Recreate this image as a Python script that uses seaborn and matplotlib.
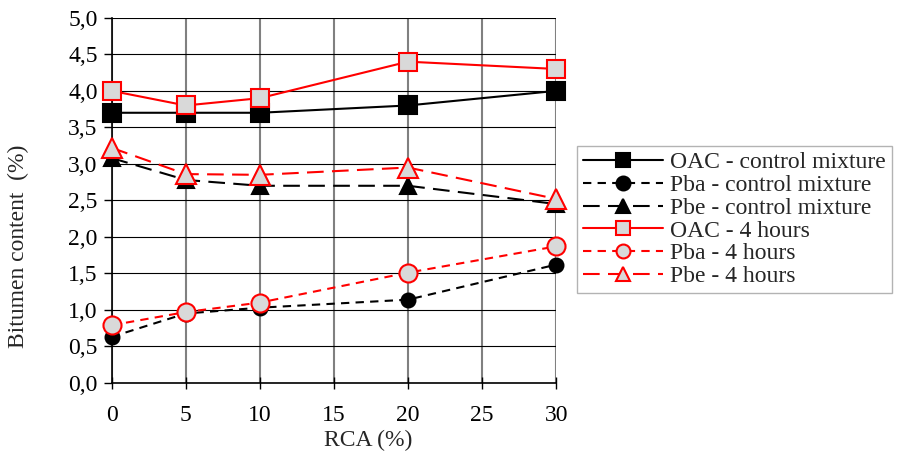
import pandas as pd
import seaborn as sns
import matplotlib.pyplot as plt
from matplotlib.ticker import FuncFormatter

rca = [0, 5, 10, 20, 30]
oac_control = [3.70, 3.70, 3.70, 3.80, 4.00]
pba_control = [0.63, 0.95, 1.03, 1.14, 1.62]
pbe_control = [3.08, 2.78, 2.70, 2.70, 2.45]
oac_4h = [4.00, 3.80, 3.90, 4.40, 4.30]
pba_4h = [0.79, 0.97, 1.10, 1.51, 1.87]
pbe_4h = [3.22, 2.86, 2.85, 2.95, 2.52]

series = [
    ("OAC - control mixture", oac_control, "black", "s", "black", (None, None), 13),
    ("Pba - control mixture", pba_control, "black", "o", "black", (4, 3), 10),
    ("Pbe - control mixture", pbe_control, "black", "^", "black", (8, 4), 12),
    ("OAC - 4 hours", oac_4h, "red", "s", "#d9d9d9", (None, None), 13),
    ("Pba - 4 hours", pba_4h, "red", "o", "#d9d9d9", (4, 3), 13),
    ("Pbe - 4 hours", pbe_4h, "red", "^", "#d9d9d9", (8, 4), 14),
]

sns.set_style("white")
plt.rcParams["font.family"] = ["Liberation Serif", "DejaVu Serif"]

fig = plt.figure(figsize=(9, 4.58), dpi=100)
ax = fig.add_axes([0.124, 0.164, 0.494, 0.797])

for name, vals, col, mk, face, dash, ms in series:
    df = pd.DataFrame({"RCA": rca, "val": vals})
    kw = {}
    if dash[0] is not None:
        kw["dashes"] = dash
    sns.lineplot(data=df, x="RCA", y="val", ax=ax, color=col, lw=1.5,
                 marker=mk, markersize=ms, markerfacecolor=face,
                 markeredgecolor=col, markeredgewidth=1.5,
                 label=name, zorder=3, clip_on=False, **kw)

ax.set_xlim(0, 30)
ax.set_ylim(0, 5)
ax.set_xticks(range(0, 31, 5))
ax.set_yticks([i * 0.5 for i in range(11)])
ax.yaxis.set_major_formatter(FuncFormatter(lambda v, p: f"{v:.1f}".replace(".", ",")))
ax.tick_params(axis="both", labelsize=17, length=5, width=1, colors="black",
               bottom=True, left=True)
ax.tick_params(axis="x", direction="inout", length=8, pad=12)
ax.tick_params(axis="y", direction="out", length=6, pad=4)
ax.xaxis.grid(True, color="#808080", lw=1.5)
ax.yaxis.grid(True, color="black", lw=0.8)
ax.set_axisbelow(True)
for s in ["top", "right"]:
    ax.spines[s].set_visible(False)
ax.spines["left"].set_color("black")
ax.spines["bottom"].set_color("black")
ax.spines["left"].set_linewidth(1.2)
ax.spines["bottom"].set_linewidth(1.2)

ax.set_xlabel("RCA (%)", fontsize=17)
ax.set_ylabel("Bitumen content  (%)", fontsize=17)
ax.xaxis.set_label_coords(0.578, -0.13)
ax.yaxis.set_label_coords(-0.186, 0.375)

leg = ax.legend(loc="upper left", bbox_to_anchor=(1.046, 0.649), fontsize=17,
                frameon=True, fancybox=False, edgecolor="#a0a0a0",
                handlelength=3.4, handletextpad=0.3, labelspacing=0.05,
                borderpad=0.25, borderaxespad=0)
leg.get_frame().set_linewidth(1.0)
for h in leg.legend_handles:
    h.set_markersize(10)

fig.savefig("out.png", dpi=100)
